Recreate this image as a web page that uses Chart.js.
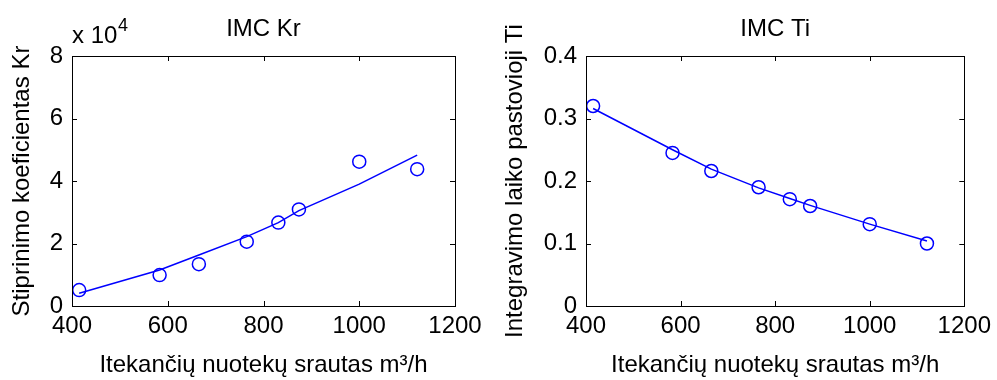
<!DOCTYPE html>
<html>
<head>
<meta charset="utf-8">
<script src="https://cdn.jsdelivr.net/npm/chart.js@4.4.0/dist/chart.umd.min.js"></script>
<style>
    body { margin: 0; background: #fff; }
    #wrap { position: relative; width: 997px; height: 380px; }
    #krBox { position: absolute; left: 0; top: 0; width: 498px; height: 380px; }
    #tiBox { position: absolute; left: 498px; top: 0; width: 499px; height: 380px; }
</style>
</head>
<body>
<div id="wrap">
    <div id="krBox"><canvas id="krChart"></canvas></div>
    <div id="tiBox"><canvas id="tiChart"></canvas></div>
</div>
<script>
// flow values (m3/h) shared by both plots
const flow = [415, 583, 665, 765, 831, 874, 1000, 1121];

// IMC Kr - measured points and fitted curve
const krData = [5100, 9900, 13400, 20600, 26700, 30900, 46200, 43800];
const krFit = [4100, 11500, 16300, 22200, 26700, 30500, 39000, 48300];

// IMC Ti - measured points and fitted curve
const tiData = [0.320, 0.245, 0.216, 0.190, 0.171, 0.160, 0.131, 0.100];
const tiFit = [0.316, 0.250, 0.219, 0.189, 0.172, 0.161, 0.131, 0.104];

const xTicks = [400, 600, 800, 1000, 1200];
const krTicks = [0, 2, 4, 6, 8];          // x 10^4
const tiTicks = [0, 0.1, 0.2, 0.3, 0.4];

const xTitle = 'Itekančių nuotekų srautas m³/h';
const FONT = "'Liberation Sans', Arial, sans-serif";
const BLUE = '#0000ff';

function toPoints(xs, ys) {
    return xs.map((x, i) => ({ x: x, y: ys[i] }));
}

// box around the plot with inward ticks on all four sides, plus title
const matlabAxes = {
    id: 'matlabAxes',
    afterDraw(chart, args, opts) {
        const ctx = chart.ctx;
        const a = chart.chartArea;
        const xs = chart.scales.x;
        const ys = chart.scales.y;
        ctx.save();
        ctx.strokeStyle = '#000';
        ctx.lineWidth = 1;
        ctx.strokeRect(Math.round(a.left) + 0.5, Math.round(a.top) + 0.5,
            Math.round(a.right - a.left), Math.round(a.bottom - a.top));
        ctx.beginPath();
        xs.ticks.forEach(t => {
            const px = Math.round(xs.getPixelForValue(t.value)) + 0.5;
            ctx.moveTo(px, a.bottom); ctx.lineTo(px, a.bottom - 5);
            ctx.moveTo(px, a.top); ctx.lineTo(px, a.top + 5);
        });
        ys.ticks.forEach(t => {
            const py = Math.round(ys.getPixelForValue(t.value)) + 0.5;
            ctx.moveTo(a.left, py); ctx.lineTo(a.left + 5, py);
            ctx.moveTo(a.right, py); ctx.lineTo(a.right - 5, py);
        });
        ctx.stroke();

        // title centred over the plot area
        ctx.fillStyle = '#000';
        ctx.font = '24px ' + FONT;
        ctx.textAlign = 'center';
        ctx.textBaseline = 'alphabetic';
        ctx.fillText(opts.title, (a.left + a.right) / 2, 36);

        // exponent label above the y axis
        if (opts.exponent) {
            ctx.textAlign = 'left';
            ctx.fillText('x 10', a.left, 43);
            ctx.font = '18px ' + FONT;
            ctx.fillText(opts.exponent, a.left + 46, 31);
        }
        ctx.restore();
    }
};

function makeChart(id, pts, fit, yTicks, yScale, yTitle, opts) {
    const ctx = document.getElementById(id).getContext('2d');
    return new Chart(ctx, {
        type: 'scatter',
        data: {
            datasets: [{
                data: toPoints(flow, fit),
                showLine: true,
                borderColor: BLUE,
                borderWidth: 1.5,
                pointRadius: 0,
                fill: false
            }, {
                data: toPoints(flow, pts),
                showLine: false,
                borderColor: BLUE,
                backgroundColor: 'rgba(0,0,0,0)',
                borderWidth: 1.5,
                pointRadius: 6.5,
                pointStyle: 'circle'
            }]
        },
        options: {
            responsive: false,
            animation: false,
            events: [],
            layout: { padding: { left: 0, right: opts.padRight, top: 56, bottom: 0 } },
            plugins: {
                legend: { display: false },
                tooltip: { enabled: false },
                matlabAxes: { title: opts.title, exponent: opts.exponent }
            },
            scales: {
                x: {
                    type: 'linear',
                    min: 400,
                    max: 1200,
                    afterBuildTicks: s => { s.ticks = xTicks.map(v => ({ value: v })); },
                    afterFit: s => { s.height = 74; },
                    grid: { display: false, drawTicks: false },
                    border: { display: false },
                    ticks: {
                        color: '#000',
                        padding: 6,
                        maxRotation: 0,
                        font: { family: FONT, size: 24 },
                        callback: v => String(v)
                    },
                    title: {
                        display: true,
                        text: xTitle,
                        color: '#000',
                        padding: { top: 0, bottom: 0 },
                        font: { family: FONT, size: 24 }
                    }
                },
                y: {
                    type: 'linear',
                    min: 0,
                    max: yTicks[yTicks.length - 1] * yScale,
                    afterBuildTicks: s => { s.ticks = yTicks.map(v => ({ value: v * yScale })); },
                    afterFit: s => { s.width = opts.yWidth; },
                    grid: { display: false, drawTicks: false },
                    border: { display: false },
                    ticks: {
                        color: '#000',
                        padding: 9,
                        font: { family: FONT, size: 24 },
                        callback: v => String(Math.round(v / yScale * 10) / 10)
                    },
                    title: {
                        display: true,
                        text: yTitle,
                        color: '#000',
                        padding: { top: opts.titlePad, bottom: 0 },
                        font: { family: FONT, size: 24 }
                    }
                }
            }
        },
        plugins: [matlabAxes]
    });
}

document.getElementById('krChart').width = 498;
document.getElementById('krChart').height = 380;
document.getElementById('tiChart').width = 499;
document.getElementById('tiChart').height = 380;

makeChart('krChart', krData, krFit, krTicks, 10000, 'Stiprinimo koeficientas Kr',
    { title: 'IMC Kr', exponent: '4', yWidth: 72, padRight: 43, titlePad: 8 });
makeChart('tiChart', tiData, tiFit, tiTicks, 1, 'Integravimo laiko pastovioji Ti',
    { title: 'IMC Ti', exponent: null, yWidth: 88, padRight: 28, titlePad: 3 });
</script>
</body>
</html>
